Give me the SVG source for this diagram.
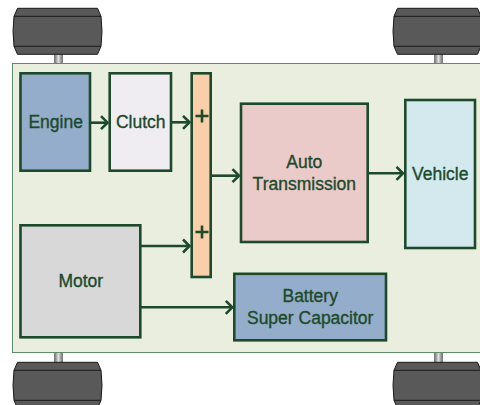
<svg xmlns="http://www.w3.org/2000/svg" xmlns:xlink="http://www.w3.org/1999/xlink" width="480" height="405" viewBox="0 0 480 405">
<defs>
<style>
.box{stroke:#1c4a2b;stroke-width:2.6}
.lbl{font-family:"Liberation Sans",Arial,sans-serif;font-size:17.5px;fill:#1c4a2b;stroke:#1c4a2b;stroke-width:0.35;text-anchor:middle}
.conn{fill:none;stroke:#1c4a2b;stroke-width:2.6}
.wheel{fill:#595959;stroke:#1a1a1a;stroke-width:1}
.axle{fill:url(#axg);stroke:#555;stroke-width:0.6}
</style>
<linearGradient id="axg" x1="0" y1="0" x2="1" y2="0">
<stop offset="0" stop-color="#707070"/>
<stop offset="0.5" stop-color="#e0e0e0"/>
<stop offset="1" stop-color="#707070"/>
</linearGradient>
<marker id="arr" markerUnits="userSpaceOnUse" viewBox="-9 -9 11 18" markerWidth="11" markerHeight="18" refX="0" refY="0" orient="auto" overflow="visible">
<path d="M-6.5,-6.5 L0,0 L-6.5,6.5" fill="none" stroke="#1c4a2b" stroke-width="2.6"/>
</marker>
<g id="wheel">
<path class="wheel" d="M-40,0 L40,0 L43.5,8 Q45.5,23 43.5,38 L40,46 L-40,46 L-43.5,38 Q-45.5,23 -43.5,8 Z"/>
<path d="M-43.5,8 L43.5,8 M-43.5,38 L43.5,38" stroke="#1a1a1a" stroke-width="1" fill="none"/>
</g>
</defs>

<g id="wheels">
<rect class="axle" x="54.5" y="53" width="8" height="11"/>
<rect class="axle" x="434.5" y="53" width="8" height="11"/>
<rect class="axle" x="54.5" y="352" width="8" height="11"/>
<rect class="axle" x="434.5" y="352" width="8" height="11"/>
<use xlink:href="#wheel" x="57.5" y="8.3"/>
<use xlink:href="#wheel" x="437.5" y="8.3"/>
<use xlink:href="#wheel" x="57.5" y="362.3"/>
<use xlink:href="#wheel" x="437.5" y="362.3"/>
</g>

<g id="chassis">
<rect x="12.5" y="63.5" width="480" height="289" fill="#eaeedf" stroke="#5e8c68" stroke-width="1"/>
</g>

<g id="engine">
<rect class="box" x="20.5" y="73.3" width="69.5" height="97.4" fill="#94adca"/>
<text class="lbl" x="55.7" y="128.3">Engine</text>
</g>
<g id="clutch">
<rect class="box" x="109.7" y="73.3" width="61.3" height="97.4" fill="#efedf2"/>
<text class="lbl" x="140.7" y="128.3">Clutch</text>
</g>
<g id="sum">
<rect class="box" x="191.7" y="73.3" width="19" height="203.7" fill="#f8cfa8"/>
<path d="M195.5,116 H208.5 M202,109.5 V122.5 M195.5,232 H208.5 M202,225.5 V238.5" stroke="#1c4a2b" stroke-width="2.6" fill="none"/>
</g>
<g id="motor">
<rect class="box" x="20.5" y="225.3" width="119.8" height="112" fill="#d8d8d8"/>
<text class="lbl" x="80.8" y="287.3">Motor</text>
</g>
<g id="transmission">
<rect class="box" x="241" y="103.7" width="126.7" height="138.3" fill="#ebcbc9"/>
<text class="lbl" x="304.3" y="168.3">Auto</text>
<text class="lbl" x="304.3" y="190">Transmission</text>
</g>
<g id="vehicle">
<rect class="box" x="405.3" y="100" width="69.7" height="148" fill="#d3e9ee"/>
<text class="lbl" x="440.2" y="180">Vehicle</text>
</g>
<g id="battery">
<rect class="box" x="234.3" y="273.8" width="151.7" height="66.5" fill="#94adca"/>
<text class="lbl" x="310.2" y="301.7">Battery</text>
<text class="lbl" x="310.2" y="324.3">Super Capacitor</text>
</g>

<g id="connectors">
<path class="conn" d="M90,122.7 H107.5" marker-end="url(#arr)"/>
<path class="conn" d="M171,122.3 H189.5" marker-end="url(#arr)"/>
<path class="conn" d="M140.3,246 H189.5" marker-end="url(#arr)"/>
<path class="conn" d="M210.7,175.7 H239" marker-end="url(#arr)"/>
<path class="conn" d="M367.7,173.3 H403" marker-end="url(#arr)"/>
<path class="conn" d="M140.3,307.3 H232.3" marker-end="url(#arr)"/>
</g>
</svg>
